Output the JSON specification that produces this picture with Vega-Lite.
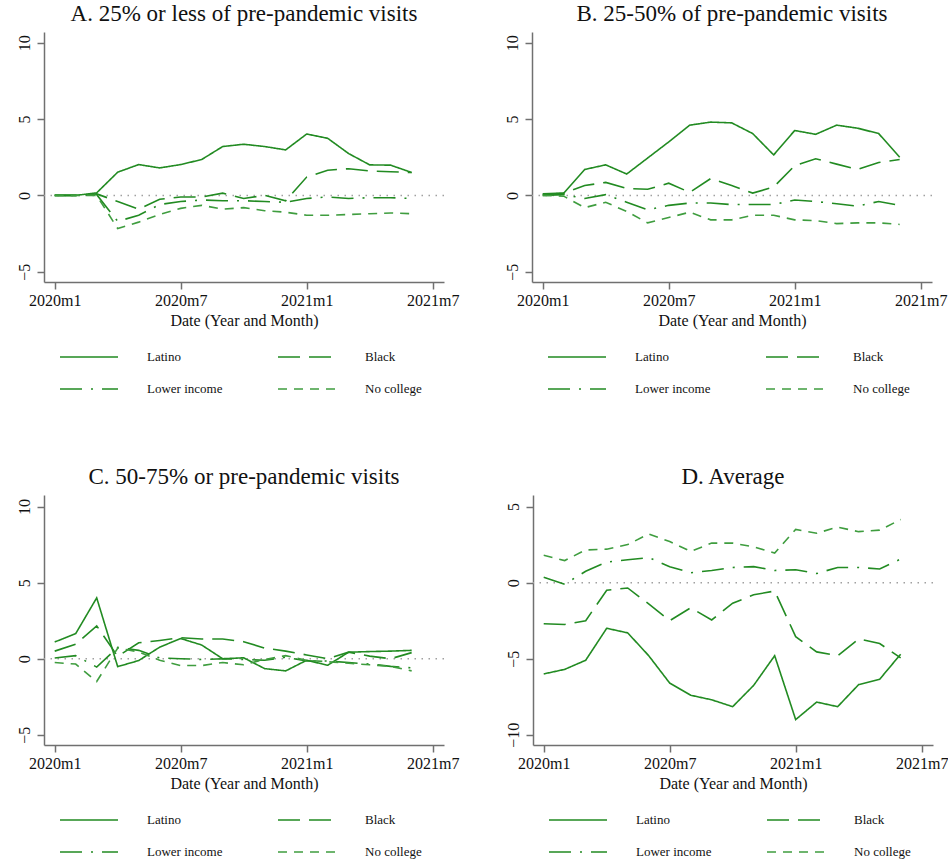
{
  "$schema": "https://vega.github.io/schema/vega-lite/v6.json",
  "padding": {"left": 15, "top": 3, "right": 0, "bottom": 0},
  "datasets": {
    "visits": [
      {"p": "A", "g": "Latino", "m": 0, "v": 0}, {"p": "A", "g": "Latino", "m": 1, "v": 0}, {"p": "A", "g": "Latino", "m": 2, "v": 0.17}, {"p": "A", "g": "Latino", "m": 3, "v": 1.52}, {"p": "A", "g": "Latino", "m": 4, "v": 2.02}, {"p": "A", "g": "Latino", "m": 5, "v": 1.8}, {"p": "A", "g": "Latino", "m": 6, "v": 2.02}, {"p": "A", "g": "Latino", "m": 7, "v": 2.35}, {"p": "A", "g": "Latino", "m": 8, "v": 3.2}, {"p": "A", "g": "Latino", "m": 9, "v": 3.35}, {"p": "A", "g": "Latino", "m": 10, "v": 3.2}, {"p": "A", "g": "Latino", "m": 11, "v": 2.98}, {"p": "A", "g": "Latino", "m": 12, "v": 4.02}, {"p": "A", "g": "Latino", "m": 13, "v": 3.74}, {"p": "A", "g": "Latino", "m": 14, "v": 2.74}, {"p": "A", "g": "Latino", "m": 15, "v": 2.0}, {"p": "A", "g": "Latino", "m": 16, "v": 1.98}, {"p": "A", "g": "Latino", "m": 17, "v": 1.5},
      {"p": "A", "g": "Black", "m": 0, "v": 0}, {"p": "A", "g": "Black", "m": 1, "v": 0}, {"p": "A", "g": "Black", "m": 2, "v": 0.1}, {"p": "A", "g": "Black", "m": 3, "v": -0.4}, {"p": "A", "g": "Black", "m": 4, "v": -0.9}, {"p": "A", "g": "Black", "m": 5, "v": -0.25}, {"p": "A", "g": "Black", "m": 6, "v": -0.1}, {"p": "A", "g": "Black", "m": 7, "v": -0.1}, {"p": "A", "g": "Black", "m": 8, "v": 0.15}, {"p": "A", "g": "Black", "m": 9, "v": -0.2}, {"p": "A", "g": "Black", "m": 10, "v": 0}, {"p": "A", "g": "Black", "m": 11, "v": -0.35}, {"p": "A", "g": "Black", "m": 12, "v": 1.2}, {"p": "A", "g": "Black", "m": 13, "v": 1.65}, {"p": "A", "g": "Black", "m": 14, "v": 1.75}, {"p": "A", "g": "Black", "m": 15, "v": 1.6}, {"p": "A", "g": "Black", "m": 16, "v": 1.55}, {"p": "A", "g": "Black", "m": 17, "v": 1.5},
      {"p": "A", "g": "Lower income", "m": 0, "v": 0}, {"p": "A", "g": "Lower income", "m": 1, "v": 0}, {"p": "A", "g": "Lower income", "m": 2, "v": 0.05}, {"p": "A", "g": "Lower income", "m": 3, "v": -1.7}, {"p": "A", "g": "Lower income", "m": 4, "v": -1.3}, {"p": "A", "g": "Lower income", "m": 5, "v": -0.6}, {"p": "A", "g": "Lower income", "m": 6, "v": -0.4}, {"p": "A", "g": "Lower income", "m": 7, "v": -0.3}, {"p": "A", "g": "Lower income", "m": 8, "v": -0.35}, {"p": "A", "g": "Lower income", "m": 9, "v": -0.35}, {"p": "A", "g": "Lower income", "m": 10, "v": -0.4}, {"p": "A", "g": "Lower income", "m": 11, "v": -0.45}, {"p": "A", "g": "Lower income", "m": 12, "v": -0.2}, {"p": "A", "g": "Lower income", "m": 13, "v": -0.1}, {"p": "A", "g": "Lower income", "m": 14, "v": -0.2}, {"p": "A", "g": "Lower income", "m": 15, "v": -0.15}, {"p": "A", "g": "Lower income", "m": 16, "v": -0.15}, {"p": "A", "g": "Lower income", "m": 17, "v": -0.2},
      {"p": "A", "g": "No college", "m": 0, "v": 0}, {"p": "A", "g": "No college", "m": 1, "v": 0}, {"p": "A", "g": "No college", "m": 2, "v": 0}, {"p": "A", "g": "No college", "m": 3, "v": -2.17}, {"p": "A", "g": "No college", "m": 4, "v": -1.75}, {"p": "A", "g": "No college", "m": 5, "v": -1.25}, {"p": "A", "g": "No college", "m": 6, "v": -0.85}, {"p": "A", "g": "No college", "m": 7, "v": -0.65}, {"p": "A", "g": "No college", "m": 8, "v": -0.9}, {"p": "A", "g": "No college", "m": 9, "v": -0.8}, {"p": "A", "g": "No college", "m": 10, "v": -1.0}, {"p": "A", "g": "No college", "m": 11, "v": -1.1}, {"p": "A", "g": "No college", "m": 12, "v": -1.3}, {"p": "A", "g": "No college", "m": 13, "v": -1.3}, {"p": "A", "g": "No college", "m": 14, "v": -1.25}, {"p": "A", "g": "No college", "m": 15, "v": -1.2}, {"p": "A", "g": "No college", "m": 16, "v": -1.15}, {"p": "A", "g": "No college", "m": 17, "v": -1.2},

      {"p": "B", "g": "Latino", "m": 0, "v": 0.05}, {"p": "B", "g": "Latino", "m": 1, "v": 0.15}, {"p": "B", "g": "Latino", "m": 2, "v": 1.7}, {"p": "B", "g": "Latino", "m": 3, "v": 2.0}, {"p": "B", "g": "Latino", "m": 4, "v": 1.4}, {"p": "B", "g": "Latino", "m": 5, "v": 2.45}, {"p": "B", "g": "Latino", "m": 6, "v": 3.5}, {"p": "B", "g": "Latino", "m": 7, "v": 4.6}, {"p": "B", "g": "Latino", "m": 8, "v": 4.8}, {"p": "B", "g": "Latino", "m": 9, "v": 4.75}, {"p": "B", "g": "Latino", "m": 10, "v": 4.05}, {"p": "B", "g": "Latino", "m": 11, "v": 2.65}, {"p": "B", "g": "Latino", "m": 12, "v": 4.25}, {"p": "B", "g": "Latino", "m": 13, "v": 4.0}, {"p": "B", "g": "Latino", "m": 14, "v": 4.6}, {"p": "B", "g": "Latino", "m": 15, "v": 4.4}, {"p": "B", "g": "Latino", "m": 16, "v": 4.05}, {"p": "B", "g": "Latino", "m": 17, "v": 2.5},
      {"p": "B", "g": "Black", "m": 0, "v": 0.1}, {"p": "B", "g": "Black", "m": 1, "v": 0.15}, {"p": "B", "g": "Black", "m": 2, "v": 0.65}, {"p": "B", "g": "Black", "m": 3, "v": 0.85}, {"p": "B", "g": "Black", "m": 4, "v": 0.45}, {"p": "B", "g": "Black", "m": 5, "v": 0.4}, {"p": "B", "g": "Black", "m": 6, "v": 0.8}, {"p": "B", "g": "Black", "m": 7, "v": 0.2}, {"p": "B", "g": "Black", "m": 8, "v": 1.1}, {"p": "B", "g": "Black", "m": 9, "v": 0.65}, {"p": "B", "g": "Black", "m": 10, "v": 0.15}, {"p": "B", "g": "Black", "m": 11, "v": 0.55}, {"p": "B", "g": "Black", "m": 12, "v": 1.95}, {"p": "B", "g": "Black", "m": 13, "v": 2.4}, {"p": "B", "g": "Black", "m": 14, "v": 2.05}, {"p": "B", "g": "Black", "m": 15, "v": 1.7}, {"p": "B", "g": "Black", "m": 16, "v": 2.15}, {"p": "B", "g": "Black", "m": 17, "v": 2.35},
      {"p": "B", "g": "Lower income", "m": 0, "v": 0}, {"p": "B", "g": "Lower income", "m": 1, "v": 0.05}, {"p": "B", "g": "Lower income", "m": 2, "v": -0.2}, {"p": "B", "g": "Lower income", "m": 3, "v": 0.05}, {"p": "B", "g": "Lower income", "m": 4, "v": -0.45}, {"p": "B", "g": "Lower income", "m": 5, "v": -0.95}, {"p": "B", "g": "Lower income", "m": 6, "v": -0.65}, {"p": "B", "g": "Lower income", "m": 7, "v": -0.5}, {"p": "B", "g": "Lower income", "m": 8, "v": -0.5}, {"p": "B", "g": "Lower income", "m": 9, "v": -0.6}, {"p": "B", "g": "Lower income", "m": 10, "v": -0.6}, {"p": "B", "g": "Lower income", "m": 11, "v": -0.6}, {"p": "B", "g": "Lower income", "m": 12, "v": -0.3}, {"p": "B", "g": "Lower income", "m": 13, "v": -0.4}, {"p": "B", "g": "Lower income", "m": 14, "v": -0.55}, {"p": "B", "g": "Lower income", "m": 15, "v": -0.7}, {"p": "B", "g": "Lower income", "m": 16, "v": -0.4}, {"p": "B", "g": "Lower income", "m": 17, "v": -0.65},
      {"p": "B", "g": "No college", "m": 0, "v": 0}, {"p": "B", "g": "No college", "m": 1, "v": -0.05}, {"p": "B", "g": "No college", "m": 2, "v": -0.8}, {"p": "B", "g": "No college", "m": 3, "v": -0.45}, {"p": "B", "g": "No college", "m": 4, "v": -1.05}, {"p": "B", "g": "No college", "m": 5, "v": -1.8}, {"p": "B", "g": "No college", "m": 6, "v": -1.45}, {"p": "B", "g": "No college", "m": 7, "v": -1.1}, {"p": "B", "g": "No college", "m": 8, "v": -1.6}, {"p": "B", "g": "No college", "m": 9, "v": -1.6}, {"p": "B", "g": "No college", "m": 10, "v": -1.3}, {"p": "B", "g": "No college", "m": 11, "v": -1.3}, {"p": "B", "g": "No college", "m": 12, "v": -1.6}, {"p": "B", "g": "No college", "m": 13, "v": -1.65}, {"p": "B", "g": "No college", "m": 14, "v": -1.85}, {"p": "B", "g": "No college", "m": 15, "v": -1.8}, {"p": "B", "g": "No college", "m": 16, "v": -1.8}, {"p": "B", "g": "No college", "m": 17, "v": -1.9},

      {"p": "C", "g": "Latino", "m": 0, "v": 1.1}, {"p": "C", "g": "Latino", "m": 1, "v": 1.65}, {"p": "C", "g": "Latino", "m": 2, "v": 4.0}, {"p": "C", "g": "Latino", "m": 3, "v": -0.52}, {"p": "C", "g": "Latino", "m": 4, "v": -0.12}, {"p": "C", "g": "Latino", "m": 5, "v": 0.76}, {"p": "C", "g": "Latino", "m": 6, "v": 1.33}, {"p": "C", "g": "Latino", "m": 7, "v": 0.9}, {"p": "C", "g": "Latino", "m": 8, "v": 0.0}, {"p": "C", "g": "Latino", "m": 9, "v": 0.06}, {"p": "C", "g": "Latino", "m": 10, "v": -0.65}, {"p": "C", "g": "Latino", "m": 11, "v": -0.8}, {"p": "C", "g": "Latino", "m": 12, "v": -0.1}, {"p": "C", "g": "Latino", "m": 13, "v": -0.43}, {"p": "C", "g": "Latino", "m": 14, "v": 0.43}, {"p": "C", "g": "Latino", "m": 15, "v": 0.47}, {"p": "C", "g": "Latino", "m": 16, "v": 0.5}, {"p": "C", "g": "Latino", "m": 17, "v": 0.55},
      {"p": "C", "g": "Black", "m": 0, "v": 0.5}, {"p": "C", "g": "Black", "m": 1, "v": 0.96}, {"p": "C", "g": "Black", "m": 2, "v": 2.16}, {"p": "C", "g": "Black", "m": 3, "v": 0.15}, {"p": "C", "g": "Black", "m": 4, "v": 1.05}, {"p": "C", "g": "Black", "m": 5, "v": 1.2}, {"p": "C", "g": "Black", "m": 6, "v": 1.38}, {"p": "C", "g": "Black", "m": 7, "v": 1.3}, {"p": "C", "g": "Black", "m": 8, "v": 1.3}, {"p": "C", "g": "Black", "m": 9, "v": 1.12}, {"p": "C", "g": "Black", "m": 10, "v": 0.7}, {"p": "C", "g": "Black", "m": 11, "v": 0.5}, {"p": "C", "g": "Black", "m": 12, "v": 0.25}, {"p": "C", "g": "Black", "m": 13, "v": 0.0}, {"p": "C", "g": "Black", "m": 14, "v": 0.43}, {"p": "C", "g": "Black", "m": 15, "v": 0.17}, {"p": "C", "g": "Black", "m": 16, "v": 0.0}, {"p": "C", "g": "Black", "m": 17, "v": 0.4},
      {"p": "C", "g": "Lower income", "m": 0, "v": 0.05}, {"p": "C", "g": "Lower income", "m": 1, "v": 0.2}, {"p": "C", "g": "Lower income", "m": 2, "v": -0.55}, {"p": "C", "g": "Lower income", "m": 3, "v": 0.75}, {"p": "C", "g": "Lower income", "m": 4, "v": 0.55}, {"p": "C", "g": "Lower income", "m": 5, "v": 0.05}, {"p": "C", "g": "Lower income", "m": 6, "v": 0.0}, {"p": "C", "g": "Lower income", "m": 7, "v": -0.05}, {"p": "C", "g": "Lower income", "m": 8, "v": 0.0}, {"p": "C", "g": "Lower income", "m": 9, "v": -0.05}, {"p": "C", "g": "Lower income", "m": 10, "v": -0.1}, {"p": "C", "g": "Lower income", "m": 11, "v": 0.1}, {"p": "C", "g": "Lower income", "m": 12, "v": -0.15}, {"p": "C", "g": "Lower income", "m": 13, "v": -0.15}, {"p": "C", "g": "Lower income", "m": 14, "v": -0.25}, {"p": "C", "g": "Lower income", "m": 15, "v": -0.35}, {"p": "C", "g": "Lower income", "m": 16, "v": -0.5}, {"p": "C", "g": "Lower income", "m": 17, "v": -0.6},
      {"p": "C", "g": "No college", "m": 0, "v": -0.25}, {"p": "C", "g": "No college", "m": 1, "v": -0.35}, {"p": "C", "g": "No college", "m": 2, "v": -1.5}, {"p": "C", "g": "No college", "m": 3, "v": 0.7}, {"p": "C", "g": "No college", "m": 4, "v": 0.45}, {"p": "C", "g": "No college", "m": 5, "v": -0.1}, {"p": "C", "g": "No college", "m": 6, "v": -0.45}, {"p": "C", "g": "No college", "m": 7, "v": -0.45}, {"p": "C", "g": "No college", "m": 8, "v": -0.25}, {"p": "C", "g": "No college", "m": 9, "v": -0.4}, {"p": "C", "g": "No college", "m": 10, "v": -0.05}, {"p": "C", "g": "No college", "m": 11, "v": 0.2}, {"p": "C", "g": "No college", "m": 12, "v": -0.1}, {"p": "C", "g": "No college", "m": 13, "v": -0.2}, {"p": "C", "g": "No college", "m": 14, "v": -0.3}, {"p": "C", "g": "No college", "m": 15, "v": -0.4}, {"p": "C", "g": "No college", "m": 16, "v": -0.5}, {"p": "C", "g": "No college", "m": 17, "v": -0.8},

      {"p": "D", "g": "Latino", "m": 0, "v": -6.0}, {"p": "D", "g": "Latino", "m": 1, "v": -5.7}, {"p": "D", "g": "Latino", "m": 2, "v": -5.1}, {"p": "D", "g": "Latino", "m": 3, "v": -3.0}, {"p": "D", "g": "Latino", "m": 4, "v": -3.3}, {"p": "D", "g": "Latino", "m": 5, "v": -4.8}, {"p": "D", "g": "Latino", "m": 6, "v": -6.6}, {"p": "D", "g": "Latino", "m": 7, "v": -7.4}, {"p": "D", "g": "Latino", "m": 8, "v": -7.7}, {"p": "D", "g": "Latino", "m": 9, "v": -8.15}, {"p": "D", "g": "Latino", "m": 10, "v": -6.75}, {"p": "D", "g": "Latino", "m": 11, "v": -4.8}, {"p": "D", "g": "Latino", "m": 12, "v": -9.0}, {"p": "D", "g": "Latino", "m": 13, "v": -7.85}, {"p": "D", "g": "Latino", "m": 14, "v": -8.15}, {"p": "D", "g": "Latino", "m": 15, "v": -6.7}, {"p": "D", "g": "Latino", "m": 16, "v": -6.35}, {"p": "D", "g": "Latino", "m": 17, "v": -4.7},
      {"p": "D", "g": "Black", "m": 0, "v": -2.7}, {"p": "D", "g": "Black", "m": 1, "v": -2.75}, {"p": "D", "g": "Black", "m": 2, "v": -2.5}, {"p": "D", "g": "Black", "m": 3, "v": -0.5}, {"p": "D", "g": "Black", "m": 4, "v": -0.35}, {"p": "D", "g": "Black", "m": 5, "v": -1.4}, {"p": "D", "g": "Black", "m": 6, "v": -2.5}, {"p": "D", "g": "Black", "m": 7, "v": -1.65}, {"p": "D", "g": "Black", "m": 8, "v": -2.45}, {"p": "D", "g": "Black", "m": 9, "v": -1.35}, {"p": "D", "g": "Black", "m": 10, "v": -0.8}, {"p": "D", "g": "Black", "m": 11, "v": -0.55}, {"p": "D", "g": "Black", "m": 12, "v": -3.55}, {"p": "D", "g": "Black", "m": 13, "v": -4.55}, {"p": "D", "g": "Black", "m": 14, "v": -4.8}, {"p": "D", "g": "Black", "m": 15, "v": -3.7}, {"p": "D", "g": "Black", "m": 16, "v": -4.0}, {"p": "D", "g": "Black", "m": 17, "v": -4.95},
      {"p": "D", "g": "Lower income", "m": 0, "v": 0.35}, {"p": "D", "g": "Lower income", "m": 1, "v": -0.1}, {"p": "D", "g": "Lower income", "m": 2, "v": 0.75}, {"p": "D", "g": "Lower income", "m": 3, "v": 1.35}, {"p": "D", "g": "Lower income", "m": 4, "v": 1.5}, {"p": "D", "g": "Lower income", "m": 5, "v": 1.65}, {"p": "D", "g": "Lower income", "m": 6, "v": 1.05}, {"p": "D", "g": "Lower income", "m": 7, "v": 0.65}, {"p": "D", "g": "Lower income", "m": 8, "v": 0.8}, {"p": "D", "g": "Lower income", "m": 9, "v": 1.0}, {"p": "D", "g": "Lower income", "m": 10, "v": 1.05}, {"p": "D", "g": "Lower income", "m": 11, "v": 0.8}, {"p": "D", "g": "Lower income", "m": 12, "v": 0.85}, {"p": "D", "g": "Lower income", "m": 13, "v": 0.6}, {"p": "D", "g": "Lower income", "m": 14, "v": 1.0}, {"p": "D", "g": "Lower income", "m": 15, "v": 1.0}, {"p": "D", "g": "Lower income", "m": 16, "v": 0.9}, {"p": "D", "g": "Lower income", "m": 17, "v": 1.55},
      {"p": "D", "g": "No college", "m": 0, "v": 1.8}, {"p": "D", "g": "No college", "m": 1, "v": 1.45}, {"p": "D", "g": "No college", "m": 2, "v": 2.15}, {"p": "D", "g": "No college", "m": 3, "v": 2.2}, {"p": "D", "g": "No college", "m": 4, "v": 2.5}, {"p": "D", "g": "No college", "m": 5, "v": 3.2}, {"p": "D", "g": "No college", "m": 6, "v": 2.7}, {"p": "D", "g": "No college", "m": 7, "v": 2.05}, {"p": "D", "g": "No college", "m": 8, "v": 2.6}, {"p": "D", "g": "No college", "m": 9, "v": 2.6}, {"p": "D", "g": "No college", "m": 10, "v": 2.35}, {"p": "D", "g": "No college", "m": 11, "v": 1.95}, {"p": "D", "g": "No college", "m": 12, "v": 3.5}, {"p": "D", "g": "No college", "m": 13, "v": 3.25}, {"p": "D", "g": "No college", "m": 14, "v": 3.65}, {"p": "D", "g": "No college", "m": 15, "v": 3.35}, {"p": "D", "g": "No college", "m": 16, "v": 3.45}, {"p": "D", "g": "No college", "m": 17, "v": 4.15}
    ]
  },
  "data": {"name": "visits"},
  "spacing": 69,
  "vconcat": [
    {
      "spacing": 45,
      "hconcat": [
        {
          "title": "A. 25% or less of pre-pandemic visits",
          "width": 400, "height": 250,
          "transform": [{"filter": "datum.p == 'A'"}],
          "layer": [
            {"transform": [{"filter": "datum.m == 0 && datum.g == 'Latino'"}],
             "mark": {"type": "rule", "color": "#a0a0a0", "strokeDash": [1.5, 5.5], "strokeWidth": 1.5},
             "encoding": {"y": {"datum": 0, "type": "quantitative"}}},
            {"mark": {"type": "line"},
             "encoding": {
               "x": {"field": "m", "type": "quantitative", "scale": {"domain": [-0.51, 18.54], "nice": false, "zero": false},
                     "axis": {"title": "Date (Year and Month)", "values": [0, 6, 12, 18], "labelExpr": "['2020m1','2020m7','2021m1','2021m7'][datum.value / 6]"}},
               "y": {"field": "v", "type": "quantitative", "scale": {"domain": [-5.67, 10.7], "nice": false, "zero": false},
                     "axis": {"title": null, "values": [-5, 0, 5, 10]}},
               "color": {"field": "g", "type": "nominal", "title": null, "scale": {"domain": ["Latino", "Black", "Lower income", "No college"], "range": ["#228B22", "#228B22", "#228B22", "#3f9d3f"]}},
               "strokeDash": {"field": "g", "type": "nominal", "title": null, "scale": {"domain": ["Latino", "Black", "Lower income", "No college"], "range": [[1, 0], [22, 9], [22, 9, 2, 9], [9, 7]]}},
               "strokeWidth": {"field": "g", "type": "nominal", "title": null, "scale": {"domain": ["Latino", "Black", "Lower income", "No college"], "range": [1.6, 1.6, 1.6, 1.2]}}
             }}
          ]
        },
        {
          "title": "B. 25-50% of pre-pandemic visits",
          "width": 400, "height": 250,
          "transform": [{"filter": "datum.p == 'B'"}],
          "layer": [
            {"transform": [{"filter": "datum.m == 0 && datum.g == 'Latino'"}],
             "mark": {"type": "rule", "color": "#a0a0a0", "strokeDash": [1.5, 5.5], "strokeWidth": 1.5},
             "encoding": {"y": {"datum": 0, "type": "quantitative"}}},
            {"mark": {"type": "line"},
             "encoding": {
               "x": {"field": "m", "type": "quantitative", "scale": {"domain": [-0.51, 18.54], "nice": false, "zero": false},
                     "axis": {"title": "Date (Year and Month)", "values": [0, 6, 12, 18], "labelExpr": "['2020m1','2020m7','2021m1','2021m7'][datum.value / 6]"}},
               "y": {"field": "v", "type": "quantitative", "scale": {"domain": [-5.67, 10.7], "nice": false, "zero": false},
                     "axis": {"title": null, "values": [-5, 0, 5, 10]}},
               "color": {"field": "g", "type": "nominal", "title": null, "scale": {"domain": ["Latino", "Black", "Lower income", "No college"], "range": ["#228B22", "#228B22", "#228B22", "#3f9d3f"]}},
               "strokeDash": {"field": "g", "type": "nominal", "title": null, "scale": {"domain": ["Latino", "Black", "Lower income", "No college"], "range": [[1, 0], [22, 9], [22, 9, 2, 9], [9, 7]]}},
               "strokeWidth": {"field": "g", "type": "nominal", "title": null, "scale": {"domain": ["Latino", "Black", "Lower income", "No college"], "range": [1.6, 1.6, 1.6, 1.2]}}
             }}
          ]
        }
      ],
      "resolve": {"scale": {"y": "independent", "x": "independent", "color": "independent", "strokeDash": "independent", "strokeWidth": "independent"}, "legend": {"color": "independent", "strokeDash": "independent", "strokeWidth": "independent"}}
    },
    {
      "spacing": 45,
      "hconcat": [
        {
          "title": "C. 50-75% or pre-pandemic visits",
          "width": 400, "height": 250,
          "transform": [{"filter": "datum.p == 'C'"}],
          "layer": [
            {"transform": [{"filter": "datum.m == 0 && datum.g == 'Latino'"}],
             "mark": {"type": "rule", "color": "#a0a0a0", "strokeDash": [1.5, 5.5], "strokeWidth": 1.5},
             "encoding": {"y": {"datum": 0, "type": "quantitative"}}},
            {"mark": {"type": "line"},
             "encoding": {
               "x": {"field": "m", "type": "quantitative", "scale": {"domain": [-0.51, 18.54], "nice": false, "zero": false},
                     "axis": {"title": "Date (Year and Month)", "values": [0, 6, 12, 18], "labelExpr": "['2020m1','2020m7','2021m1','2021m7'][datum.value / 6]"}},
               "y": {"field": "v", "type": "quantitative", "scale": {"domain": [-5.67, 10.76], "nice": false, "zero": false},
                     "axis": {"title": null, "values": [-5, 0, 5, 10]}},
               "color": {"field": "g", "type": "nominal", "title": null, "scale": {"domain": ["Latino", "Black", "Lower income", "No college"], "range": ["#228B22", "#228B22", "#228B22", "#3f9d3f"]}},
               "strokeDash": {"field": "g", "type": "nominal", "title": null, "scale": {"domain": ["Latino", "Black", "Lower income", "No college"], "range": [[1, 0], [22, 9], [22, 9, 2, 9], [9, 7]]}},
               "strokeWidth": {"field": "g", "type": "nominal", "title": null, "scale": {"domain": ["Latino", "Black", "Lower income", "No college"], "range": [1.6, 1.6, 1.6, 1.2]}}
             }}
          ]
        },
        {
          "title": "D. Average",
          "width": 400, "height": 250,
          "transform": [{"filter": "datum.p == 'D'"}],
          "layer": [
            {"transform": [{"filter": "datum.m == 0 && datum.g == 'Latino'"}],
             "mark": {"type": "rule", "color": "#a0a0a0", "strokeDash": [1.5, 5.5], "strokeWidth": 1.5},
             "encoding": {"y": {"datum": 0, "type": "quantitative"}}},
            {"mark": {"type": "line"},
             "encoding": {
               "x": {"field": "m", "type": "quantitative", "scale": {"domain": [-0.51, 18.54], "nice": false, "zero": false},
                     "axis": {"title": "Date (Year and Month)", "values": [0, 6, 12, 18], "labelExpr": "['2020m1','2020m7','2021m1','2021m7'][datum.value / 6]"}},
               "y": {"field": "v", "type": "quantitative", "scale": {"domain": [-10.67, 5.76], "nice": false, "zero": false},
                     "axis": {"title": null, "values": [-10, -5, 0, 5]}},
               "color": {"field": "g", "type": "nominal", "title": null, "scale": {"domain": ["Latino", "Black", "Lower income", "No college"], "range": ["#228B22", "#228B22", "#228B22", "#3f9d3f"]}},
               "strokeDash": {"field": "g", "type": "nominal", "title": null, "scale": {"domain": ["Latino", "Black", "Lower income", "No college"], "range": [[1, 0], [22, 9], [22, 9, 2, 9], [9, 7]]}},
               "strokeWidth": {"field": "g", "type": "nominal", "title": null, "scale": {"domain": ["Latino", "Black", "Lower income", "No college"], "range": [1.6, 1.6, 1.6, 1.2]}}
             }}
          ]
        }
      ],
      "resolve": {"scale": {"y": "independent", "x": "independent", "color": "independent", "strokeDash": "independent", "strokeWidth": "independent"}, "legend": {"color": "independent", "strokeDash": "independent", "strokeWidth": "independent"}}
    }
  ],
  "resolve": {"scale": {"y": "independent", "x": "independent", "color": "independent", "strokeDash": "independent", "strokeWidth": "independent"}, "legend": {"color": "independent", "strokeDash": "independent", "strokeWidth": "independent"}},
  "config": {
    "font": "Liberation Serif",
    "view": {"stroke": null},
    "title": {"font": "Liberation Serif", "fontSize": 23, "fontWeight": "normal", "color": "#111111", "offset": 6, "anchor": "middle"},
    "axis": {
      "grid": false, "domainColor": "#707070", "tickColor": "#707070", "domainWidth": 1.5, "tickWidth": 1.5, "tickSize": 7,
      "labelFont": "Liberation Serif", "labelFontSize": 16, "labelColor": "#111111", "labelPadding": 3, "labelOverlap": false, "labelFlush": false,
      "titleFont": "Liberation Serif", "titleFontSize": 16, "titleFontWeight": "normal", "titleColor": "#111111", "titlePadding": 4
    },
    "axisY": {"labelAngle": -90, "labelAlign": "center", "labelBaseline": "bottom", "labelPadding": 5},
    "legend": {
      "orient": "none", "legendX": 15, "legendY": 317, "columns": 2, "direction": "horizontal", "symbolType": "stroke", "symbolSize": 3364,
      "symbolStrokeWidth": 1.6, "labelFont": "Liberation Serif", "labelFontSize": 13, "labelColor": "#111111",
      "labelOffset": 28, "columnPadding": 54, "rowPadding": 16, "clipHeight": 16, "padding": 0
    }
  }
}
